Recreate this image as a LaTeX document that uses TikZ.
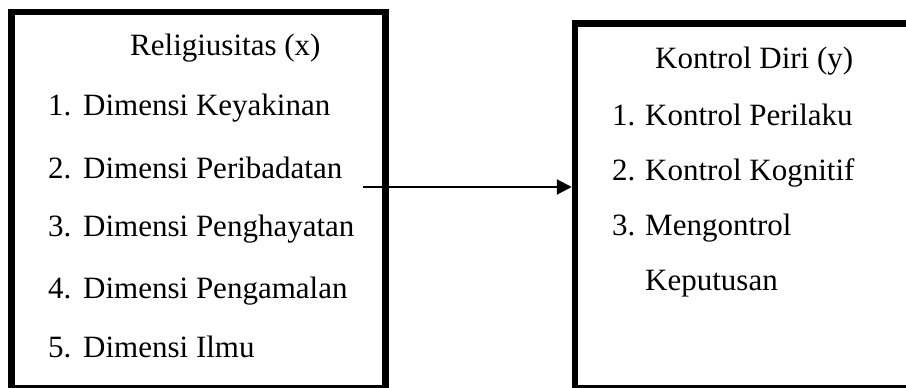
\documentclass[tikz,border=0pt]{standalone}
\usepackage{fontspec}
\setmainfont{Liberation Serif}
\usetikzlibrary{arrows.meta}
\begin{document}
\begin{tikzpicture}[x=1pt,y=-1pt,
  frame/.style={draw=black,line width=6.5pt,inner sep=0pt,outer sep=0pt,anchor=north west},
  txt/.style={anchor=base west,inner sep=0pt,font=\fontsize{31}{31}\selectfont},
  link/.style={draw=black,line width=2.2pt,-{Triangle[length=15pt,width=15pt]}}]
\useasboundingbox (0,0) rectangle (906,388);
\clip (0,0) rectangle (906,388);
\node[frame,minimum width=374pt,minimum height=376pt] (L) at (11.5,12) {};
\node[frame,minimum width=345pt,minimum height=364.5pt] (R) at (575,23.5) {};
% left box texts
\node[txt] (lt) at (130,55) {Religiusitas (x)};
\node[txt] (ln1) at (48,115) {1.};
\node[txt] (l1) at (83,115) {Dimensi Keyakinan};
\node[txt] (ln2) at (48,178) {2.};
\node[txt] (l2) at (83,178) {Dimensi Peribadatan};
\node[txt] (ln3) at (48,236) {3.};
\node[txt] (l3) at (83,236) {Dimensi Penghayatan};
\node[txt] (ln4) at (48,298) {4.};
\node[txt] (l4) at (83,298) {Dimensi Pengamalan};
\node[txt] (ln5) at (48,357) {5.};
\node[txt] (l5) at (83,357) {Dimensi Ilmu};
% right box texts
\node[txt] (rt) at (655,68) {Kontrol Diri (y)};
\node[txt] (rn1) at (612,125) {1.};
\node[txt] (r1) at (645,125) {Kontrol Perilaku};
\node[txt] (rn2) at (612,180) {2.};
\node[txt] (r2) at (645,180) {Kontrol Kognitif};
\node[txt] (rn3) at (612,235) {3.};
\node[txt] (r3) at (645,235) {Mengontrol};
\node[txt] (r3b) at (645,290) {Keputusan};
% arrow
\coordinate (as) at (363,187);
\draw[link,shorten >=3.25pt] (as) -- (as -| R.west);
\end{tikzpicture}
\end{document}
